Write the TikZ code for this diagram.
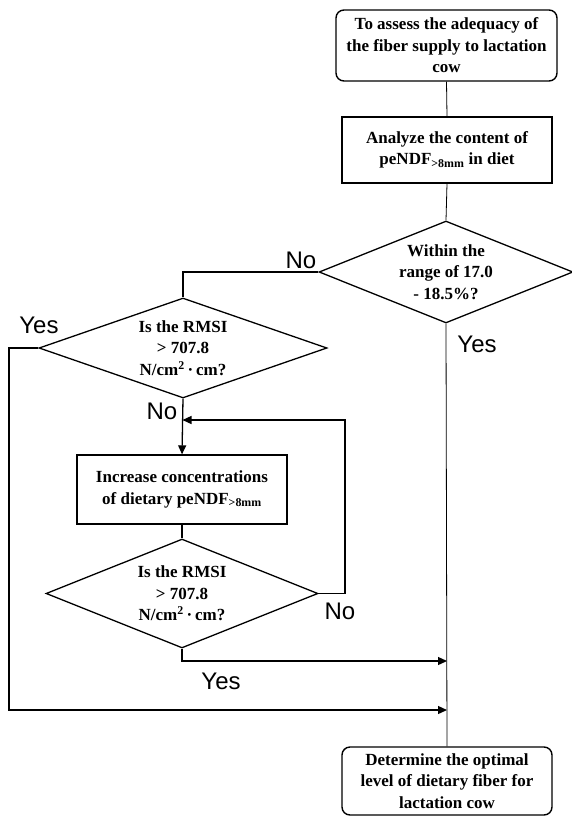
\documentclass[tikz,border=0pt]{standalone}
\usepackage{fontspec}
\setmainfont{Liberation Serif}
\newfontfamily\labelfont{Liberation Sans}
\usetikzlibrary{shapes.geometric,arrows.meta}
\begin{document}
\begin{tikzpicture}[x=1pt,y=-1pt,
  txt/.style={align=center,font=\fontsize{17}{21.5}\selectfont\bfseries},
  rbox/.style={txt,draw,line width=1.4pt,rounded corners=8pt,inner sep=0pt},
  sbox/.style={txt,draw,line width=1.3pt,inner sep=0pt},
  dec/.style={txt,diamond,draw,line width=1.3pt,inner sep=0pt,aspect=2.8},
  lbl/.style={font=\labelfont\fontsize{24}{27}\selectfont,inner sep=0pt},
  thin/.style={line width=0.8pt},
  conn/.style={line width=1.3pt},
  arr/.style={conn,-{Triangle[length=9pt,width=8pt]}}]
\useasboundingbox (0,0) rectangle (572,816);
\fill[white] (0,0) rectangle (572,816);
\node[rbox,minimum width=221pt,minimum height=71pt] (start) at (446.5,45.5)
  {To assess the adequacy of\\the fiber supply to lactation\\cow};
\node[sbox,minimum width=210pt,minimum height=66pt] (analyze) at (447,150)
  {Analyze the content of\\peNDF\textsubscript{>8mm} in diet};
\node[dec,minimum width=254pt,minimum height=102pt] (d1) at (446,272)
  {Within the\\range of 17.0\\- 18.5\%?};
\node[dec,minimum width=288pt,minimum height=100pt] (d2) at (183,348)
  {Is the RMSI\\> 707.8\\N/cm\textsuperscript{2}\,·\,cm?};
\node[sbox,minimum width=210pt,minimum height=69pt] (inc) at (182,489.5)
  {Increase concentrations\\of dietary peNDF\textsubscript{>8mm}};
\node[dec,minimum width=272pt,minimum height=109pt] (d3) at (182,593.5)
  {Is the RMSI\\> 707.8\\N/cm\textsuperscript{2}\,·\,cm?};
\node[rbox,minimum width=210pt,minimum height=68pt] (end) at (447,781)
  {Determine the optimal\\level of dietary fiber for\\lactation cow};
\coordinate (j1) at (447,661);
\coordinate (j2) at (447,710);
\coordinate (lx) at (9,0);
\coordinate (rx) at (345,0);
\coordinate (fb) at (182.5,420);
\draw[thin] (start.south) -- (analyze.north);
\draw[thin] (analyze.south) -- (d1.north);
\draw[thin] (d1.south) -- (end.north);
\draw[conn] (d1.west) -- (d1.west -| d2.north) -- (d2.north);
\draw[arr] (d2.west) -- (d2.west -| lx) |- (j2);
\draw[arr] (d2.south) -- (inc.north);
\draw[conn] (inc.south) -- (d3.north);
\draw[arr] (d3.south) |- (j1);
\draw[arr] (d3.east) -- (d3.east -| rx) |- (fb);
\node[lbl] (l1) at (301,260) {No};
\node[lbl] (l2) at (477,344) {Yes};
\node[lbl] (l3) at (39,325) {Yes};
\node[lbl] (l4) at (162,411) {No};
\node[lbl] (l5) at (340,611) {No};
\node[lbl] (l6) at (221,681) {Yes};
\end{tikzpicture}
\end{document}
